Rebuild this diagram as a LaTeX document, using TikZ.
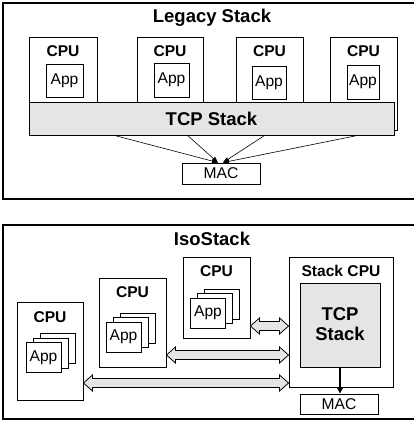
\documentclass[tikz,border=0pt]{standalone}
\usepackage{fontspec}
\setmainfont{Liberation Sans}
\usetikzlibrary{calc,arrows.meta}
\tikzset{
  box/.style={draw=black, line width=0.9pt, fill=white, inner sep=0pt},
  panel/.style={draw=black, line width=1.9pt},
  graybox/.style={box, fill=gray!20},
  bigtxt/.style={font=\fontsize{18.5}{20}\selectfont\bfseries, inner sep=0pt},
  lbl/.style={font=\fontsize{15.6}{17}\selectfont\bfseries, inner sep=0pt},
  apptxt/.style={font=\fontsize{15.6}{17}\selectfont},
  appbox/.style={box, apptxt, minimum width=35pt, minimum height=30pt},
  thinarrow/.style={draw=black, line width=0.6pt, -{Triangle[length=6pt,width=4.5pt]}},
  thickarrow/.style={draw=black, line width=1.5pt, -{Triangle[length=6pt,width=6pt]}},
  blockarrow/.style={draw=black, line width=0.8pt, fill=gray!20, line join=miter},
}
\newcommand{\blockarr}[2]{%
  \path[blockarrow] let \p1=#1, \p2=#2 in
    (\x1,\y1) -- (\x1+9pt,\y1+8pt) -- (\x1+9pt,\y1+4.5pt) -- (\x2-9pt,\y1+4.5pt)
    -- (\x2-9pt,\y1+8pt) -- (\x2,\y1) -- (\x2-9pt,\y1-8pt) -- (\x2-9pt,\y1-4.5pt)
    -- (\x1+9pt,\y1-4.5pt) -- (\x1+9pt,\y1-8pt) -- cycle;}
\begin{document}
\begin{tikzpicture}[x=1pt,y=-1pt]
\useasboundingbox (0,0) rectangle (414,421);
\fill[white] (0,0) rectangle (414,421);

% ---------- Legacy Stack ----------
\draw[panel] (3,3) rectangle (430,199);
\node[bigtxt] (t1) at (212,18) {Legacy Stack};

\node[box, minimum width=68pt, minimum height=93pt] (c1) at (63,83.5) {};
\node[box, minimum width=66pt, minimum height=93pt] (c2) at (170,83.5) {};
\node[box, minimum width=67pt, minimum height=93pt] (c3) at (269.5,83.5) {};
\node[box, minimum width=67pt, minimum height=93pt] (c4) at (363.5,83.5) {};
\node[lbl] (c1l) at (63,51) {CPU};
\node[lbl] (c2l) at (170,51) {CPU};
\node[lbl] (c3l) at (269.5,51) {CPU};
\node[lbl] (c4l) at (363.5,51) {CPU};
\node[box, apptxt, minimum width=37pt, minimum height=33pt] (a1) at (64.5,80.5) {App};
\node[box, apptxt, minimum width=35pt, minimum height=34pt] (a2) at (171.5,80) {App};
\node[box, apptxt, minimum width=34pt, minimum height=33pt] (a3) at (269,82.5) {App};
\node[box, apptxt, minimum width=32pt, minimum height=34pt] (a4) at (363,82) {App};

\node[graybox, minimum width=365pt, minimum height=33pt] (tcp) at (211.5,118.5) {};
\node[bigtxt] (tcpl) at (211.5,118.5) {TCP Stack};

\node[box, apptxt, minimum width=78pt, minimum height=21pt] (mac1) at (221,173.5) {MAC};

\draw[thinarrow] ($(tcp.south west)+(86,0)$) -- ($(mac1.north)+(-3,0)$);
\draw[thinarrow] ($(tcp.south west)+(159,0)$) -- ($(mac1.north)+(-3,0)$);
\draw[thinarrow] ($(tcp.south west)+(236,0)$) -- ($(mac1.north)+(2,0)$);
\draw[thinarrow] ($(tcp.south west)+(329,0)$) -- ($(mac1.north)+(2,0)$);

% ---------- IsoStack ----------
\draw[panel] (3,225) rectangle (430,419);
\node[bigtxt] (t2) at (212,239) {IsoStack};

% CPU A
\node[box, minimum width=66pt, minimum height=98pt] (ca) at (50,351) {};
\node[lbl] (cal) at (50,317) {CPU};
\node[appbox] (pa3) at (57.5,348.5) {};
\node[appbox] (pa2) at (50.5,353) {};
\node[appbox] (pa1) at (43.5,357.5) {App};

% CPU B
\node[box, minimum width=67pt, minimum height=89pt] (cb) at (132.5,322.5) {};
\node[lbl] (cbl) at (132.5,292) {CPU};
\node[appbox] (pb3) at (137.5,328) {};
\node[appbox] (pb2) at (130.5,332.5) {};
\node[appbox] (pb1) at (123.5,337) {App};

% CPU C
\node[box, minimum width=67pt, minimum height=81pt] (cc) at (216.5,297.5) {};
\node[lbl] (ccl) at (216.5,271) {CPU};
\node[appbox] (pc3) at (222,304) {};
\node[appbox] (pc2) at (215,308.5) {};
\node[appbox] (pc1) at (208,313) {App};

% Stack CPU
\node[box, minimum width=104pt, minimum height=130pt] (scpu) at (341,322) {};
\node[lbl] (scpul) at (341,271) {Stack CPU};
\node[graybox, minimum width=80pt, minimum height=84pt] (tcp2) at (340,325) {};
\node[bigtxt, align=center] (tcp2l) at (340,324) {TCP\\Stack};
\node[box, apptxt, minimum width=78pt, minimum height=20pt] (mac2) at (339,404) {MAC};
\draw[thickarrow] (tcp2.south) -- (tcp2.south |- mac2.north);

% block arrows
\coordinate (l1) at (0,326);
\coordinate (l2) at (0,355);
\coordinate (l3) at (0,383);
\blockarr{(cc.east |- l1)}{(scpu.west |- l1)}
\blockarr{(cb.east |- l2)}{(scpu.west |- l2)}
\blockarr{(ca.east |- l3)}{(scpu.west |- l3)}
\end{tikzpicture}
\end{document}
